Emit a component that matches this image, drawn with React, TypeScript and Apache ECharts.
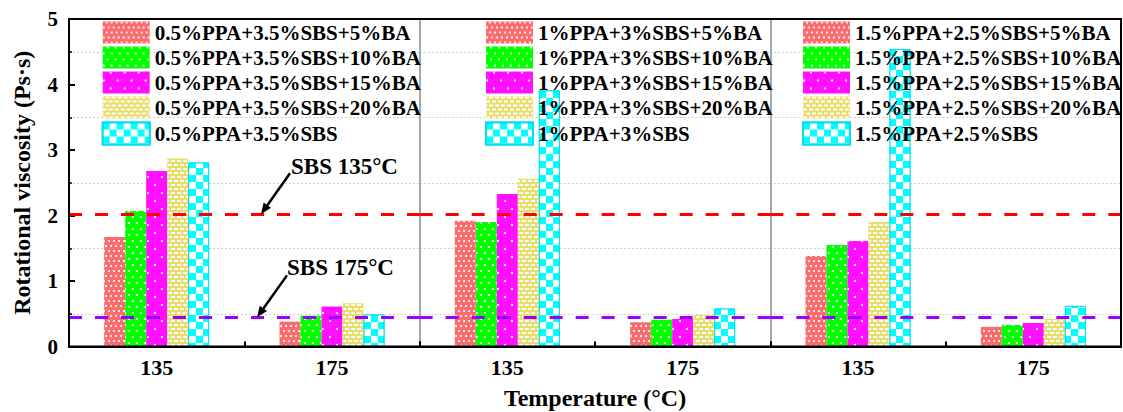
import React, { useEffect, useRef } from 'react';
import * as echarts from 'echarts';

const categories = ['135', '175'];

const panel1Names = [
  '0.5%PPA+3.5%SBS+5%BA',
  '0.5%PPA+3.5%SBS+10%BA',
  '0.5%PPA+3.5%SBS+15%BA',
  '0.5%PPA+3.5%SBS+20%BA',
  '0.5%PPA+3.5%SBS',
];
const panel2Names = [
  '1%PPA+3%SBS+5%BA',
  '1%PPA+3%SBS+10%BA',
  '1%PPA+3%SBS+15%BA',
  '1%PPA+3%SBS+20%BA',
  '1%PPA+3%SBS',
];
const panel3Names = [
  '1.5%PPA+2.5%SBS+5%BA',
  '1.5%PPA+2.5%SBS+10%BA',
  '1.5%PPA+2.5%SBS+15%BA',
  '1.5%PPA+2.5%SBS+20%BA',
  '1.5%PPA+2.5%SBS',
];

// values at [135, 175]
const panel1Values = [
  [1.67, 0.38],
  [2.07, 0.47],
  [2.68, 0.61],
  [2.87, 0.66],
  [2.81, 0.49],
];
const panel2Values = [
  [1.92, 0.37],
  [1.9, 0.41],
  [2.33, 0.42],
  [2.56, 0.48],
  [3.91, 0.58],
];
const panel3Values = [
  [1.38, 0.3],
  [1.55, 0.33],
  [1.61, 0.36],
  [1.9, 0.42],
  [4.54, 0.62],
];

const sbsReference = [2.02, 0.445];
const annotationLabels = ['SBS 135°C', 'SBS 175°C'];
const yMin = 0;
const yMax = 5;

const FONT = '"Liberation Serif", "Times New Roman", serif';

const barColors = ['#FB6B6B', '#00FF00', '#FF11FF', '#E8DE6C', '#00FFFF'];
const decals: any[] = [
  { symbol: 'circle', symbolSize: 1, color: '#ffffff', dashArrayX: [[2, 3], [0, 3, 2, 0]], dashArrayY: [2, 3] },
  { symbol: 'circle', symbolSize: 1, color: '#ffffff', dashArrayX: [[2, 6], [0, 4, 2, 2]], dashArrayY: [2, 4] },
  { symbol: 'circle', symbolSize: 1, color: '#ffffff', dashArrayX: [[2, 12], [0, 7, 2, 5]], dashArrayY: [2, 6] },
  { symbol: 'roundRect', symbolSize: 1, color: '#ffffff', dashArrayX: [[4, 2], [1, 2, 3, 0]], dashArrayY: [2, 2] },
  { symbol: 'rect', symbolSize: 1, color: '#ffffff', dashArrayX: [[7, 7], [0, 7, 7, 0]], dashArrayY: [7, 0] },
];

export default function App() {
  const ref = useRef<HTMLDivElement>(null);

  useEffect(() => {
    document.body.style.margin = '0';
    const chart = echarts.init(ref.current!, null, { renderer: 'svg' });

    const L = 69;
    const T = 19;
    const W = 1052;
    const H = 327.5;
    const pw = W / 3;
    const yPx = (v: number) => T + H * (1 - (v - yMin) / (yMax - yMin));

    const names = [panel1Names, panel2Names, panel3Names];
    const values = [panel1Values, panel2Values, panel3Values];
    const legendLefts = [101.7, 485, 802];

    const grids = [0, 1, 2].map((i) => ({
      left: L + i * pw,
      top: T,
      width: pw,
      height: H,
      containLabel: false,
      outerBoundsMode: 'none',
    }));

    const xAxes = [0, 1, 2].map((i) => ({
      type: 'category',
      gridIndex: i,
      data: categories,
      axisLine: { show: true, lineStyle: { color: '#000', width: 2 } },
      axisTick: { show: true, inside: true, length: 5, interval: 0, lineStyle: { color: '#000', width: 2 } },
      axisLabel: { color: '#000', fontFamily: FONT, fontWeight: 'bold', fontSize: 22, margin: 10 },
      splitLine: { show: false },
      name: i === 1 ? 'Temperature (°C)' : '',
      nameLocation: 'middle',
      nameGap: 39,
      nameTextStyle: { color: '#000', fontFamily: FONT, fontWeight: 'bold', fontSize: 24 },
    }));

    const yAxes = [0, 1, 2].map((i) => ({
      type: 'value',
      gridIndex: i,
      min: yMin,
      max: yMax,
      interval: 1,
      axisLine: {
        show: true,
        lineStyle: i === 0 ? { color: '#000', width: 2 } : { color: '#a8a8a8', width: 2 },
      },
      axisTick: { show: i === 0, inside: true, length: 6, lineStyle: { color: '#000', width: 2 } },
      minorTick: { show: i === 0, splitNumber: 2, length: 3, lineStyle: { color: '#000', width: 1.5 } },
      axisLabel: { show: i === 0, color: '#000', fontFamily: FONT, fontWeight: 'bold', fontSize: 21, margin: 11 },
      splitLine: { show: false },
      minorSplitLine: { show: true, lineStyle: { color: '#cfcfcf', width: 1, type: [2, 2] } },
      name: i === 0 ? 'Rotational viscosity (Ps·s)' : '',
      nameLocation: 'middle',
      nameRotate: 90,
      nameGap: 35,
      nameTextStyle: { color: '#000', fontFamily: FONT, fontWeight: 'bold', fontSize: 24 },
    }));

    const series: any[] = [];
    for (let p = 0; p < 3; p++) {
      for (let k = 0; k < 5; k++) {
        const s: any = {
          type: 'bar',
          name: names[p][k],
          xAxisIndex: p,
          yAxisIndex: p,
          data: values[p][k],
          barWidth: 21,
          barGap: '0%',
          itemStyle: {
            color: barColors[k],
            decal: decals[k],
            borderColor: k === 4 ? '#00E0F0' : undefined,
            borderWidth: k === 4 ? 1 : 0,
          },
        };
        if (k === 0) {
          s.markLine = {
            silent: true,
            symbol: 'none',
            label: { show: false },
            data: [
              { yAxis: sbsReference[0], lineStyle: { color: '#FF0000', width: 3, type: [13, 13] } },
              { yAxis: sbsReference[1], lineStyle: { color: '#9A00FF', width: 3, type: [13, 13] } },
            ],
          };
        }
        series.push(s);
      }
    }

    const legends = [0, 1, 2].map((p) => ({
      data: names[p],
      orient: 'vertical',
      left: legendLefts[p],
      top: 21.5,
      padding: 0,
      itemWidth: 47,
      itemHeight: 22,
      itemGap: 3,
      icon: 'rect',
      selectedMode: false,
      textStyle: { color: '#000', fontFamily: FONT, fontWeight: 'bold', fontSize: 21 },
    }));

    const arrow = (tipX: number, tipY: number, dx: number, dy: number) => {
      const sx = tipX + dx;
      const sy = tipY + dy;
      const len = Math.sqrt(dx * dx + dy * dy);
      const ux = -dx / len;
      const uy = -dy / len;
      const hl = 11;
      const hw = 4.5;
      const bx = tipX - ux * hl;
      const by = tipY - uy * hl;
      const px = -uy;
      const py = ux;
      return [
        {
          type: 'line',
          shape: { x1: sx, y1: sy, x2: bx, y2: by },
          style: { stroke: '#000', lineWidth: 2.5 },
          z: 20,
        },
        {
          type: 'polygon',
          shape: {
            points: [
              [tipX, tipY],
              [bx + px * hw, by + py * hw],
              [bx - px * hw, by - py * hw],
            ],
          },
          style: { fill: '#000' },
          z: 20,
        },
      ];
    };

    const graphic: any[] = [
      {
        type: 'rect',
        shape: { x: L, y: T, width: W, height: H },
        style: { fill: 'none', stroke: '#000', lineWidth: 2 },
        z: 15,
        silent: true,
      },
      ...arrow(261, yPx(sbsReference[0]), 29, -41),
      ...arrow(257, yPx(sbsReference[1]), 30, -42),
      {
        type: 'text',
        x: 291,
        y: 166,
        style: { text: annotationLabels[0], fill: '#000', font: `bold 23px ${FONT}`, verticalAlign: 'middle', align: 'left' },
        z: 20,
      },
      {
        type: 'text',
        x: 287,
        y: 267,
        style: { text: annotationLabels[1], fill: '#000', font: `bold 23px ${FONT}`, verticalAlign: 'middle', align: 'left' },
        z: 20,
      },
    ];

    chart.setOption({
      animation: false,
      backgroundColor: '#ffffff',
      grid: grids,
      xAxis: xAxes,
      yAxis: yAxes,
      legend: legends,
      series,
      graphic,
    });

    return () => chart.dispose();
  }, []);

  return <div ref={ref} style={{ width: 1123, height: 412 }} />;
}
